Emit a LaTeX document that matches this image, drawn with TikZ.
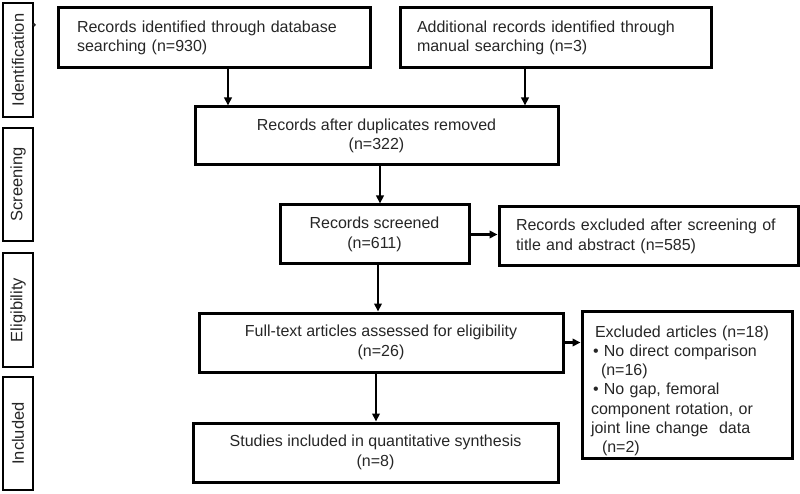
\documentclass[tikz,border=0pt]{standalone}
\usepackage{fontspec}
\setmainfont{Liberation Sans}
\usetikzlibrary{arrows.meta}
\begin{document}
\begin{tikzpicture}[x=1pt,y=-1pt,
  box/.style={draw, line width=3pt, rectangle, inner ysep=0pt, text=black!85,
    font=\fontsize{16}{19.5}\selectfont},
  cbox/.style={box, align=center, inner xsep=4pt},
  lbox/.style={box, align=left},
  stage/.style={draw, line width=2.4pt, rectangle, rotate=90, minimum height=30pt,
    inner sep=0pt, text=black!85, font=\fontsize{16.5}{19}\selectfont},
  arr/.style={line width=2.3pt, -{Triangle[length=8pt,width=7.5pt]}}]
\useasboundingbox (0,0) rectangle (800,494);

% stage labels
\node[stage, minimum width=114pt] (L1) at (18,60) {Identification};
\node[stage, minimum width=113pt] (L2) at (18,184.5) {Screening};
\node[stage, minimum width=114pt] (L3) at (18,310) {Eligibility};
\node[stage, minimum width=113pt] (L4) at (18,433.5) {Included};
\fill[black!85] ([yshift=-23pt]L1.south east) circle (1.8pt);

% boxes
\node[lbox, text width=274pt, inner xsep=19pt, minimum height=60pt] (B1) at (214,38)
  {Records identified through database\\searching (n=930)};
\node[lbox, text width=277pt, inner xsep=17pt, minimum height=60pt] (B2) at (555.5,38)
  {Additional records identified through\\manual searching (n=3)};
\node[cbox, minimum width=363pt, minimum height=58pt] (B3) at (376.5,136)
  {Records after duplicates removed\\(n=322)};
\node[cbox, minimum width=189pt, minimum height=59pt] (B4) at (374.5,234.5)
  {Records screened\\(n=611)};
\node[lbox, text width=265pt, inner xsep=17pt, minimum height=59pt] (B5) at (648.5,236.5)
  {Records excluded after screening of\\title and abstract (n=585)};
\node[cbox, minimum width=364pt, minimum height=59pt] (B6) at (381,342.5)
  {Full-text articles assessed for eligibility\\(n=26)};
\node[lbox, text width=192pt, inner xsep=9pt, minimum height=147pt,
  font=\fontsize{16}{19.2}\selectfont] (B7) at (687,384.5)
  {\rule{0pt}{24pt}\hspace*{4pt}Excluded articles (n=18)\\
   \hspace*{2pt}• No direct comparison\\
   \hspace*{10pt}(n=16)\\
   \hspace*{2pt}• No gap, femoral\\
   component rotation, or\\
   joint line change\ \ data\\
   \hspace*{11pt}(n=2)};
\node[cbox, minimum width=365pt, minimum height=59pt] (B8) at (375.5,452.5)
  {Studies included in quantitative synthesis\\(n=8)};

% connectors
\draw[arr] ([xshift=14pt]B1.south) -- ([xshift=14pt]B1.south |- B3.north);
\draw[arr] ([xshift=-30.5pt]B2.south) -- ([xshift=-30.5pt]B2.south |- B3.north);
\draw[arr] ([xshift=3.5pt]B3.south) -- ([xshift=3.5pt]B3.south |- B4.north);
\draw[arr] (B4.east) -- (B4.east -| B5.west);
\draw[arr] ([xshift=3.5pt]B4.south) -- ([xshift=3.5pt]B4.south |- B6.north);
\draw[arr] (B6.east) -- (B6.east -| B7.west);
\draw[arr] ([xshift=-5pt]B6.south) -- ([xshift=-5pt]B6.south |- B8.north);
\end{tikzpicture}
\end{document}
